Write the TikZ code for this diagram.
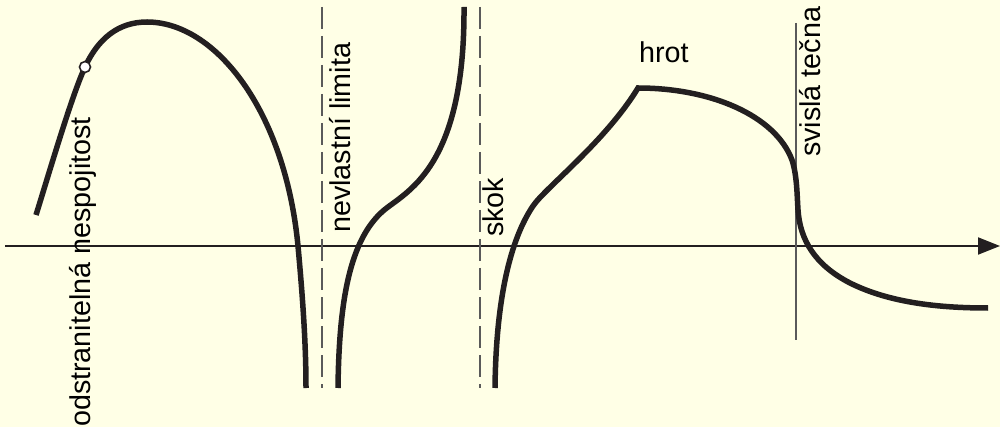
\documentclass[tikz,border=0pt]{standalone}
\usepackage{fontspec}
\setmainfont{Liberation Sans}
\usetikzlibrary{arrows.meta}
\definecolor{bgcol}{RGB}{255,255,230}
\definecolor{ink}{RGB}{35,31,32}
\definecolor{guide}{RGB}{90,90,90}
\tikzset{
  curve/.style={draw=ink, line width=5.5pt, line cap=butt, line join=miter},
  axisline/.style={draw=ink, line width=2pt, -{Triangle[length=22pt,width=17pt]}},
  asym/.style={draw=guide, line width=1.6pt, dash pattern=on 22pt off 7pt},
  tangent/.style={draw=guide, line width=1.4pt},
  lab/.style={inner sep=0pt, text=black, font=\fontsize{28.7}{30}\selectfont},
  vlab/.style={lab, rotate=90, anchor=base west},
  hole/.style={circle, draw=ink, fill=white, line width=1.6pt, minimum size=11pt, inner sep=0pt}
}
\begin{document}
\begin{tikzpicture}[x=1pt, y=-1pt]
\useasboundingbox (0,0) rectangle (1000,427);
\fill[bgcol] (0,0) rectangle (1000,427);

% axis
\coordinate (axL) at (5,246);
\coordinate (axR) at (1000,246);
\draw[axisline] (axL) -- (axR);

% asymptotes and tangent
\coordinate (a1t) at (322,7);
\coordinate (a1b) at (322,388);
\coordinate (a2t) at (480,7);
\coordinate (a2b) at (480,388);
\coordinate (tgt) at (796,23);
\coordinate (tgb) at (796,340);
\draw[asym] (a1t) -- (a1b);
\draw[asym] (a2t) -- (a2b);
\draw[tangent] (tgt) -- (tgb);

% curve 1 (removable discontinuity)
\draw[curve] (36,215) .. controls (50,170) and (72,95) .. (85,67)
  .. controls (98,39) and (118,22) .. (147,22)
  .. controls (215,22) and (285,110) .. (298,246)
  .. controls (302,290) and (306,340) .. (306,388);
\node[hole] (hole) at (85,67) {};

% curve 2 (infinite limit)
\draw[curve] (338,388) .. controls (339,300) and (350,240) .. (383,211)
  .. controls (405,192) and (465,170) .. (464,7);

% curve 3 (jump, cusp, vertical tangent)
\draw[curve] (495,388) .. controls (496,300) and (510,240) .. (533,206)
  .. controls (545,188) and (605,142) .. (638,88)
  .. controls (710,88) and (775,115) .. (792,160)
  .. controls (797,175) and (797,195) .. (798,210)
  .. controls (800,240) and (815,265) .. (850,283)
  .. controls (890,303) and (940,308) .. (988,308);

% labels
\node[vlab] (l1) at (90,427) {odstranitelná nespojitost};
\node[vlab] (l2) at (350,233) {nevlastní limita};
\node[vlab] (l3) at (503,237) {skok};
\node[vlab] (l4) at (820,157) {svislá tečna};
\node[lab, anchor=base west] (l5) at (639,63) {hrot};
\end{tikzpicture}
\end{document}
